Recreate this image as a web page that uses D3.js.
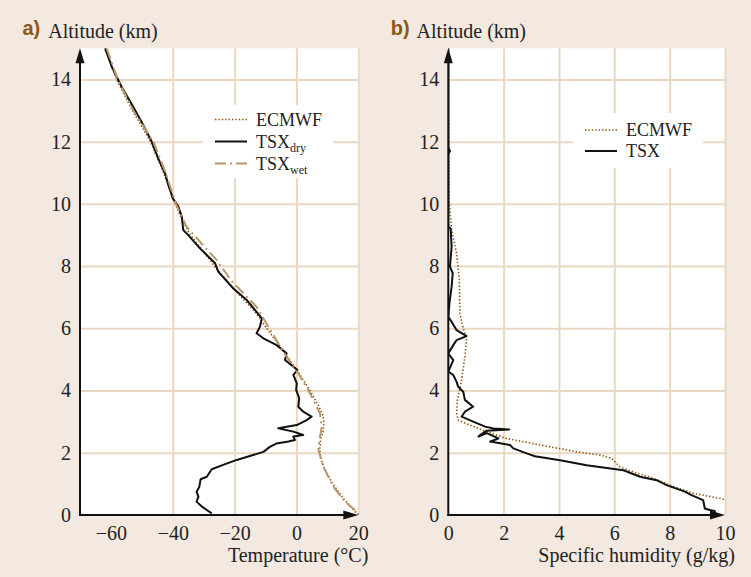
<!DOCTYPE html>
<html>
<head>
<meta charset="utf-8">
<script src="https://cdn.jsdelivr.net/npm/d3@7"></script>
<style>
body{margin:0;background:#f3e9e0;}
svg{display:block;}
</style>
</head>
<body>
<div id="chart"></div>
<script>
// ---- data, [value, altitude km] ----
var altTicks = [0,2,4,6,8,10,12,14];
var tempTicks = [-60,-40,-20,0,20];
var humTicks = [0,2,4,6,8,10];

var tempEcmwf = [[-61.6,15],[-58.2,14],[-53.0,13],[-47.2,12],[-43.0,11],[-39.2,10],[-37.0,9.5],
    [-34.3,9],[-30.3,8.5],[-26.5,8],[-22.3,7.5],[-17.8,7],[-13.2,6.5],[-9.6,6],[-5.9,5.5],
    [-2.3,5],[1.2,4.5],[4.4,4],[7.2,3.5],[8.6,3.2],[8.9,3],[8.6,2.7],[7.8,2.4],[7.5,2.1],
    [7.9,1.8],[9.0,1.5],[11.7,1],[15.4,0.5],[20,0]];
var tempWet = [[-61.4,15],[-57.8,14],[-52.8,13],[-46.3,12],[-42.3,11],[-39.0,10],[-35.5,9.26],
    [-25.8,8.19],[-20.8,7.5],[-12.9,6.69],[-10.7,6.32],[-8.8,6],[-4.3,5.25],[0.6,4.55],
    [4.4,3.91],[7.6,3.27],[8.2,2.84],[7.4,2.41],[7.1,2.09],[8.7,1.55],[11.9,0.91],
    [15.7,0.43],[19.5,0.11],[20,0]];
var tempDry = [[-61.9,15],[-59.7,14.4],[-56.5,13.76],[-52.8,13.12],[-49.5,12.53],[-46.8,12.0],
    [-44.7,11.46],[-42.5,10.98],[-41.4,10.6],[-40.0,10.18],[-38.2,9.91],[-37.1,9.59],
    [-36.6,9.16],[-35.5,9.05],[-31.2,8.57],[-26.3,8.09],[-25.3,7.82],[-20.4,7.28],
    [-16.1,6.91],[-12.9,6.53],[-11.2,6.32],[-11.8,6.05],[-12.9,5.84],[-10.7,5.68],
    [-6.4,5.46],[-3.2,5.2],[-3.7,4.98],[-1.0,4.77],[0.3,4.66],[-1.0,4.5],[0.1,4.23],
    [-0.1,4.02],[0.9,3.75],[0.6,3.48],[2.2,3.32],[4.9,3.16],[3.3,3.05],[0.1,2.89],
    [-5.9,2.79],[-1.0,2.68],[2.2,2.57],[-1.0,2.52],[-0.5,2.41],[-2.6,2.36],[-6.4,2.3],
    [-8.6,2.19],[-10.7,2.03],[-14.0,1.93],[-19.3,1.77],[-23.7,1.61],[-27.4,1.47],
    [-29.0,1.23],[-31.0,1.15],[-31.4,0.91],[-32.3,0.75],[-31.7,0.59],[-32.3,0.43],
    [-30.6,0.27],[-29.0,0.16],[-27.4,0.05]];

var humEcmwf = [[0,15],[0.02,10.2],[0.12,9.16],[0.30,8.41],[0.40,7.55],[0.42,6.48],[0.54,6.0],
    [0.66,5.68],[0.60,5.09],[0.48,4.34],[0.33,3.7],[0.30,3.27],[0.36,3.05],[0.78,2.89],
    [1.39,2.68],[2.11,2.46],[3.32,2.25],[4.64,2.03],[5.48,1.93],[5.90,1.82],[6.20,1.55],
    [6.81,1.34],[7.41,1.18],[8.01,0.96],[8.85,0.7],[10,0.5]];
var humTsx = [[0,15],[0,11.8],[0.06,11.7],[0,11.6],[0,9.27],[0.085,9.21],[0.12,8.62],[0.06,7.98],
    [0.16,7.77],[0.12,7.34],[0.04,6.8],[0,6.37],[0.12,6.21],[0.30,5.94],[0.66,5.75],
    [0.30,5.62],[0.18,5.46],[0,5.19],[0.18,4.98],[0,4.61],[0.18,4.5],[0.30,4.28],
    [0.36,4.12],[0.54,3.96],[0.60,3.7],[0.90,3.48],[0.60,3.32],[0.48,3.16],[0.90,3.0],
    [1.33,2.84],[1.63,2.78],[2.20,2.75],[1.39,2.71],[1.15,2.57],[1.09,2.52],[1.39,2.63],
    [1.81,2.46],[1.51,2.36],[2.23,2.25],[2.35,2.14],[2.83,1.98],[3.13,1.89],[4.04,1.76],
    [5.0,1.6],[6.33,1.44],[6.93,1.23],[7.53,1.12],[7.89,0.96],[8.55,0.75],[8.79,0.64],
    [9.21,0.48],[9.27,0.21],[9.45,0.16],[9.63,0.13],[9.63,0.0]];

// ---- styles ----
var bg = "#f3e9e0", grid = "#ead8c3";
var cEcmwf = "#8f5210", cWet = "#b8976b", cDry = "#111";
var serif = "'Liberation Serif','Times New Roman',serif";

var svg = d3.select("#chart").append("svg")
    .attr("width", 751).attr("height", 577);
svg.append("rect").attr("width", 751).attr("height", 577).attr("fill", bg);

var y = d3.scaleLinear().domain([0, 15]).range([515, 48.3]);

function drawPanel(opt){
    var x = opt.x;
    var x0 = x.range()[0], x1 = x.range()[1];
    var y0 = y.range()[0], y1 = y.range()[1];
    var g = svg.append("g");

    // plot area
    g.append("rect").attr("x", x0).attr("y", y1)
        .attr("width", x1 - x0).attr("height", y0 - y1).attr("fill", "#fff");

    // gridlines
    var gy = g.append("g").attr("transform", "translate(" + x0 + ",0)")
        .call(d3.axisLeft(y).tickValues(altTicks.slice(1)).tickSize(-(x1 - x0)).tickFormat(""));
    var gx = g.append("g").attr("transform", "translate(0," + y0 + ")")
        .call(d3.axisBottom(x).tickValues(opt.ticks.slice(1)).tickSize(-(y0 - y1)).tickFormat(""));
    [gx, gy].forEach(function(a){
        a.select(".domain").remove();
        a.selectAll("line").attr("stroke", grid).attr("stroke-width", 2);
    });

    // legend box covers the grid
    g.append("rect").attr("x", opt.leg.x).attr("y", opt.leg.y)
        .attr("width", opt.leg.w).attr("height", opt.leg.h).attr("fill", "#fff");

    var clipId = "clip" + opt.name;
    svg.append("clipPath").attr("id", clipId).append("rect")
        .attr("x", x0).attr("y", y1).attr("width", x1 - x0 + 2).attr("height", y0 - y1);

    var line = d3.line()
        .x(function(d){ return x(d[0]); })
        .y(function(d){ return y(d[1]); });

    var lines = g.append("g").attr("clip-path", "url(#" + clipId + ")");
    opt.series.forEach(function(s){
        lines.append("path").datum(s.data)
            .attr("d", line)
            .attr("fill", "none")
            .attr("stroke", s.color)
            .attr("stroke-width", s.width)
            .attr("stroke-dasharray", s.dash)
            .attr("stroke-linejoin", "round");
    });

    // legend entries
    opt.series.forEach(function(s, i){
        var ly = opt.leg.ly + i * opt.leg.step;
        g.append("line")
            .attr("x1", opt.leg.lx).attr("x2", opt.leg.lx + 32)
            .attr("y1", ly).attr("y2", ly)
            .attr("stroke", s.color).attr("stroke-width", s.width)
            .attr("stroke-dasharray", s.dash);
        var t = g.append("text").attr("x", opt.leg.lx + 41).attr("y", ly + 6)
            .attr("font-family", serif).attr("font-size", 18).attr("fill", "#222")
            .text(s.label);
        if(s.sub){
            t.append("tspan").attr("font-size", 12).attr("dy", 4).text(s.sub);
        }
    });

    // axes with arrows
    g.append("line").attr("x1", x0).attr("x2", x0).attr("y1", y0 + 1).attr("y2", y1 + 10)
        .attr("stroke", "#111").attr("stroke-width", 2);
    g.append("line").attr("x1", x0 - 1).attr("x2", x1 - 10).attr("y1", y0).attr("y2", y0)
        .attr("stroke", "#111").attr("stroke-width", 2);
    g.append("path").attr("fill", "#111")
        .attr("d", "M" + x0 + "," + y1 + "L" + (x0 - 4.5) + "," + (y1 + 15) + "L" + (x0 + 4.5) + "," + (y1 + 15) + "Z");
    g.append("path").attr("fill", "#111")
        .attr("d", "M" + x1 + "," + y0 + "L" + (x1 - 15) + "," + (y0 - 4.5) + "L" + (x1 - 15) + "," + (y0 + 4.5) + "Z");

    // tick labels
    var ay = g.append("g").attr("transform", "translate(" + x0 + ",0)")
        .call(d3.axisLeft(y).tickValues(altTicks).tickSize(0).tickPadding(9));
    var ax = g.append("g").attr("transform", "translate(0," + y0 + ")")
        .call(d3.axisBottom(x).tickValues(opt.ticks).tickSize(0).tickPadding(11));
    [ax, ay].forEach(function(a){
        a.select(".domain").remove();
        a.selectAll("text").attr("font-family", serif).attr("font-size", 20).attr("fill", "#222");
    });

    // titles
    g.append("text").attr("x", x0 - 57.5).attr("y", 35)
        .attr("font-family", "'Liberation Sans','DejaVu Sans',sans-serif").attr("font-weight", "bold")
        .attr("font-size", 20).attr("fill", "#8b5817").text(opt.name + ")");
    g.append("text").attr("x", x0 - 31.7).attr("y", 37.5)
        .attr("font-family", serif).attr("font-size", 20).attr("fill", "#222")
        .text("Altitude (km)");
    g.append("text").attr("x", x1 + opt.xtitleOff).attr("y", 562).attr("text-anchor", "end")
        .attr("font-family", serif).attr("font-size", 20).attr("fill", "#222")
        .text(opt.xtitle);
}

drawPanel({
    name: "a",
    x: d3.scaleLinear().domain([-70, 20]).range([80, 358.3]),
    ticks: tempTicks,
    xtitle: "Temperature (°C)",
    xtitleOff: 10,
    leg: {x: 203, y: 105, w: 130, h: 73, lx: 215, ly: 119.5, step: 22},
    series: [
        {data: tempEcmwf, color: cEcmwf, width: 1.6, dash: "1.4,2", label: "ECMWF"},
        {data: tempDry, color: cDry, width: 2, dash: null, label: "TSX", sub: "dry"},
        {data: tempWet, color: cWet, width: 2, dash: "11,4,2,4", label: "TSX", sub: "wet"}
    ]
});

drawPanel({
    name: "b",
    x: d3.scaleLinear().domain([0, 10]).range([448.3, 725]),
    ticks: humTicks,
    xtitle: "Specific humidity (g/kg)",
    xtitleOff: 10,
    leg: {x: 573, y: 113, w: 130, h: 55, lx: 585, ly: 130, step: 21},
    series: [
        {data: humEcmwf, color: cEcmwf, width: 1.6, dash: "1.4,2", label: "ECMWF"},
        {data: humTsx, color: cDry, width: 2, dash: null, label: "TSX"}
    ]
});
</script>
</body>
</html>
